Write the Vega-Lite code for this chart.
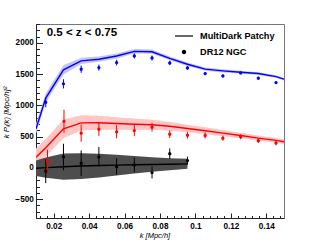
{
  "$schema": "https://vega.github.io/schema/vega-lite/v6.json",
  "width": 248,
  "height": 194,
  "autosize": {"type": "none"},
  "padding": {"left": 36, "top": 24, "right": 32, "bottom": 25},
  "title": {"text": "0.5 < z < 0.75", "anchor": "start", "frame": "group", "orient": "top", "baseline": "alphabetic", "offset": 0, "dx": 10.7, "dy": 24, "font": "Liberation Sans", "fontSize": 11.5, "fontWeight": "bold", "color": "#000"},
  "config": {
    "view": {"stroke": "#777", "strokeWidth": 1},
    "axis": {"grid": false, "tickCount": 100, "domainColor": "#222", "tickColor": "#222", "labelFont": "Liberation Sans", "labelFontWeight": "bold", "labelFontSize": 8.2, "labelColor": "#000", "labelOverlap": false, "titleFont": "Liberation Sans", "titleFontStyle": "italic", "titleFontWeight": "normal", "titleFontSize": 7.5, "titleColor": "#000"}
  },
  "datasets": {
    "model": [
      {"s": "P0", "k": 0.01, "v": 625, "lo": 545, "hi": 705},
      {"s": "P0", "k": 0.0155, "v": 1117, "lo": 1045, "hi": 1190},
      {"s": "P0", "k": 0.0255, "v": 1567, "lo": 1492, "hi": 1642},
      {"s": "P0", "k": 0.0355, "v": 1710, "lo": 1660, "hi": 1760},
      {"s": "P0", "k": 0.0455, "v": 1737, "lo": 1695, "hi": 1779},
      {"s": "P0", "k": 0.0555, "v": 1789, "lo": 1750, "hi": 1828},
      {"s": "P0", "k": 0.0655, "v": 1863, "lo": 1827, "hi": 1899},
      {"s": "P0", "k": 0.0755, "v": 1857, "lo": 1823, "hi": 1891},
      {"s": "P0", "k": 0.0855, "v": 1752, "lo": 1722, "hi": 1782},
      {"s": "P0", "k": 0.0955, "v": 1657, "lo": 1629, "hi": 1685},
      {"s": "P0", "k": 0.1055, "v": 1578, "lo": 1553, "hi": 1603},
      {"s": "P0", "k": 0.1155, "v": 1551, "lo": 1527, "hi": 1575},
      {"s": "P0", "k": 0.1255, "v": 1530, "lo": 1508, "hi": 1552},
      {"s": "P0", "k": 0.1355, "v": 1508, "lo": 1487, "hi": 1529},
      {"s": "P0", "k": 0.1455, "v": 1460, "lo": 1440, "hi": 1480},
      {"s": "P0", "k": 0.15, "v": 1419, "lo": 1399, "hi": 1439},
      {"s": "P2", "k": 0.01, "v": 170, "lo": 30, "hi": 310},
      {"s": "P2", "k": 0.0155, "v": 324, "lo": 184, "hi": 464},
      {"s": "P2", "k": 0.0255, "v": 625, "lo": 475, "hi": 775},
      {"s": "P2", "k": 0.0355, "v": 720, "lo": 600, "hi": 840},
      {"s": "P2", "k": 0.0455, "v": 722, "lo": 612, "hi": 832},
      {"s": "P2", "k": 0.0555, "v": 709, "lo": 609, "hi": 809},
      {"s": "P2", "k": 0.0655, "v": 698, "lo": 608, "hi": 788},
      {"s": "P2", "k": 0.0755, "v": 690, "lo": 610, "hi": 770},
      {"s": "P2", "k": 0.0855, "v": 665, "lo": 595, "hi": 735},
      {"s": "P2", "k": 0.0955, "v": 630, "lo": 570, "hi": 690},
      {"s": "P2", "k": 0.1055, "v": 594, "lo": 539, "hi": 649},
      {"s": "P2", "k": 0.1155, "v": 556, "lo": 506, "hi": 606},
      {"s": "P2", "k": 0.1255, "v": 519, "lo": 474, "hi": 564},
      {"s": "P2", "k": 0.1355, "v": 476, "lo": 434, "hi": 518},
      {"s": "P2", "k": 0.1455, "v": 440, "lo": 400, "hi": 480},
      {"s": "P2", "k": 0.15, "v": 419, "lo": 381, "hi": 457},
      {"s": "P4", "k": 0.01, "v": -5, "lo": -130, "hi": 120},
      {"s": "P4", "k": 0.0155, "v": 5, "lo": -155, "hi": 165},
      {"s": "P4", "k": 0.0255, "v": 20, "lo": -190, "hi": 230},
      {"s": "P4", "k": 0.0355, "v": 30, "lo": -175, "hi": 235},
      {"s": "P4", "k": 0.0455, "v": 38, "lo": -152, "hi": 228},
      {"s": "P4", "k": 0.0555, "v": 45, "lo": -120, "hi": 210},
      {"s": "P4", "k": 0.0655, "v": 50, "lo": -90, "hi": 190},
      {"s": "P4", "k": 0.0755, "v": 55, "lo": -60, "hi": 170},
      {"s": "P4", "k": 0.0855, "v": 60, "lo": -35, "hi": 155},
      {"s": "P4", "k": 0.0955, "v": 65, "lo": -15, "hi": 145}
    ],
    "obs": [
      {"s": "P0", "src": "DR12 NGC", "k": 0.0155, "v": 1048, "lo": 968, "hi": 1128},
      {"s": "P0", "src": "DR12 NGC", "k": 0.0255, "v": 1344, "lo": 1270, "hi": 1418},
      {"s": "P0", "src": "DR12 NGC", "k": 0.0355, "v": 1578, "lo": 1520, "hi": 1636},
      {"s": "P0", "src": "DR12 NGC", "k": 0.0455, "v": 1603, "lo": 1555, "hi": 1651},
      {"s": "P0", "src": "DR12 NGC", "k": 0.0555, "v": 1683, "lo": 1638, "hi": 1728},
      {"s": "P0", "src": "DR12 NGC", "k": 0.0655, "v": 1789, "lo": 1749, "hi": 1829},
      {"s": "P0", "src": "DR12 NGC", "k": 0.0755, "v": 1757, "lo": 1717, "hi": 1797},
      {"s": "P0", "src": "DR12 NGC", "k": 0.0855, "v": 1678, "lo": 1643, "hi": 1713},
      {"s": "P0", "src": "DR12 NGC", "k": 0.0955, "v": 1598, "lo": 1568, "hi": 1628},
      {"s": "P0", "src": "DR12 NGC", "k": 0.1055, "v": 1508, "lo": 1483, "hi": 1533},
      {"s": "P0", "src": "DR12 NGC", "k": 0.1155, "v": 1471, "lo": 1446, "hi": 1496},
      {"s": "P0", "src": "DR12 NGC", "k": 0.1255, "v": 1519, "lo": 1497, "hi": 1541},
      {"s": "P0", "src": "DR12 NGC", "k": 0.1355, "v": 1435, "lo": 1413, "hi": 1457},
      {"s": "P0", "src": "DR12 NGC", "k": 0.1455, "v": 1365, "lo": 1345, "hi": 1385},
      {"s": "P2", "src": "DR12 NGC", "k": 0.0165, "v": 111, "lo": -69, "hi": 291},
      {"s": "P2", "src": "DR12 NGC", "k": 0.0258, "v": 746, "lo": 561, "hi": 931},
      {"s": "P2", "src": "DR12 NGC", "k": 0.0355, "v": 556, "lo": 418, "hi": 694},
      {"s": "P2", "src": "DR12 NGC", "k": 0.0455, "v": 619, "lo": 513, "hi": 725},
      {"s": "P2", "src": "DR12 NGC", "k": 0.0555, "v": 578, "lo": 472, "hi": 684},
      {"s": "P2", "src": "DR12 NGC", "k": 0.0655, "v": 598, "lo": 508, "hi": 688},
      {"s": "P2", "src": "DR12 NGC", "k": 0.0755, "v": 651, "lo": 581, "hi": 721},
      {"s": "P2", "src": "DR12 NGC", "k": 0.0855, "v": 540, "lo": 477, "hi": 603},
      {"s": "P2", "src": "DR12 NGC", "k": 0.0955, "v": 524, "lo": 471, "hi": 577},
      {"s": "P2", "src": "DR12 NGC", "k": 0.1055, "v": 519, "lo": 471, "hi": 567},
      {"s": "P2", "src": "DR12 NGC", "k": 0.1155, "v": 476, "lo": 434, "hi": 518},
      {"s": "P2", "src": "DR12 NGC", "k": 0.1255, "v": 498, "lo": 458, "hi": 538},
      {"s": "P2", "src": "DR12 NGC", "k": 0.1355, "v": 435, "lo": 397, "hi": 473},
      {"s": "P2", "src": "DR12 NGC", "k": 0.1455, "v": 397, "lo": 362, "hi": 432},
      {"s": "P4", "src": "DR12 NGC", "k": 0.0155, "v": -52, "lo": -242, "hi": 138},
      {"s": "P4", "src": "DR12 NGC", "k": 0.0255, "v": 175, "lo": -37, "hi": 387},
      {"s": "P4", "src": "DR12 NGC", "k": 0.0355, "v": 75, "lo": -131, "hi": 281},
      {"s": "P4", "src": "DR12 NGC", "k": 0.0455, "v": 175, "lo": 16, "hi": 334},
      {"s": "P4", "src": "DR12 NGC", "k": 0.0555, "v": 22, "lo": -110, "hi": 154},
      {"s": "P4", "src": "DR12 NGC", "k": 0.0655, "v": 48, "lo": -69, "hi": 165},
      {"s": "P4", "src": "DR12 NGC", "k": 0.0755, "v": -73, "lo": -168, "hi": 22},
      {"s": "P4", "src": "DR12 NGC", "k": 0.0855, "v": 228, "lo": 143, "hi": 313},
      {"s": "P4", "src": "DR12 NGC", "k": 0.0955, "v": 117, "lo": 54, "hi": 180}
    ]
  },
  "resolve": {"axis": {"x": "independent", "y": "independent"}},
  "layer": [
    {
      "data": {"name": "model"},
      "layer": [
        {
          "mark": {"type": "area", "clip": true, "opacity": 1},
          "encoding": {
            "x": {"field": "k", "type": "quantitative", "scale": {"domain": [0.01, 0.15], "nice": false, "zero": false},
                  "axis": {"orient": "bottom", "values": [0.02, 0.04, 0.06, 0.08, 0.1, 0.12, 0.14], "tickCount": 100, "format": ".2~f", "tickSize": -5, "labelPadding": 9, "domain": true, "title": "k  [Mpc/h]", "titleX": 118.5, "titleY": 17, "titleBaseline": "middle", "titleAnchor": "start", "titleAlign": "center"}},
            "y": {"field": "lo", "type": "quantitative", "scale": {"domain": [-800, 2300], "nice": false, "zero": false},
                  "axis": {"orient": "left", "values": [-500, 0, 500, 1000, 1500, 2000], "tickCount": 100, "labelOverlap": false, "format": "d", "tickSize": -6.5, "labelPadding": 9.2, "title": "k Pₗ(k)  [Mpc/h]²", "titleX": -30, "titleY": 88, "titleAngle": -90, "titleBaseline": "middle", "titleAlign": "center", "titleAnchor": "start", "titleFontSize": 7.8}},
            "y2": {"field": "hi"},
            "fill": {"field": "s", "type": "nominal", "scale": {"domain": ["P0", "P2", "P4"], "range": ["#c4c4fa", "#ffc6c6", "#4d4d4d"]}, "legend": null},
            "order": {"field": "s"}
          }
        },
        {
          "mark": {"type": "line", "clip": true, "strokeWidth": 1.4},
          "encoding": {
            "x": {"field": "k", "type": "quantitative"},
            "y": {"field": "v", "type": "quantitative"},
            "stroke": {"field": "s", "type": "nominal", "scale": {"domain": ["P0", "P2", "P4"], "range": ["#0000ff", "#ff0000", "#000000"]}, "legend": null}
          }
        },
        {
          "data": {"name": "obs"},
          "mark": {"type": "rule", "strokeWidth": 1},
          "encoding": {
            "x": {"field": "k", "type": "quantitative"},
            "y": {"field": "lo", "type": "quantitative"},
            "y2": {"field": "hi"},
            "stroke": {"field": "s", "type": "nominal", "legend": null}
          }
        }
      ]
    },
    {
      "data": {"name": "obs"},
      "mark": {"type": "point", "filled": true, "size": 324, "opacity": 1, "strokeWidth": 0},
      "encoding": {
        "x": {"field": "k", "type": "quantitative", "axis": {"orient": "bottom", "values": [0.012, 0.016, 0.024, 0.028, 0.032, 0.036, 0.044, 0.048, 0.052, 0.056, 0.064, 0.068, 0.072, 0.076, 0.084, 0.088, 0.092, 0.096, 0.104, 0.108, 0.112, 0.116, 0.124, 0.128, 0.132, 0.136, 0.144, 0.148], "tickCount": 100, "labels": false, "domain": false, "tickSize": -2.5, "title": null}},
        "y": {"field": "v", "type": "quantitative", "axis": {"orient": "left", "values": [-800, -700, -600, -400, -300, -200, -100, 100, 200, 300, 400, 600, 700, 800, 900, 1100, 1200, 1300, 1400, 1600, 1700, 1800, 1900, 2100, 2200, 2300], "tickCount": 100, "labels": false, "domain": false, "tickSize": -3.5, "title": null}},
        "color": {"field": "s", "type": "nominal", "scale": {"domain": ["P0", "P2", "P4"], "range": ["#0000ff", "#ff0000", "#000000"]}, "legend": null},
        "shape": {"field": "src", "type": "nominal",
                  "scale": {"domain": ["MultiDark Patchy", "DR12 NGC"], "range": ["M-1,0H1", "M-0.18,0A0.18,0.18,0,1,1,0.18,0A0.18,0.18,0,1,1,-0.18,0Z"]},
                  "legend": {"orient": "none", "legendX": 138, "legendY": 2, "title": null, "padding": 0, "symbolSize": 324, "symbolFillColor": "#000", "symbolStrokeColor": "#000", "symbolStrokeWidth": 1.2, "symbolOpacity": 1, "labelOffset": 6, "rowPadding": 0, "labelFont": "Liberation Sans", "labelFontWeight": "bold", "labelFontSize": 9.2, "labelColor": "#000", "labelLimit": 200}}
      }
    }
  ]
}
